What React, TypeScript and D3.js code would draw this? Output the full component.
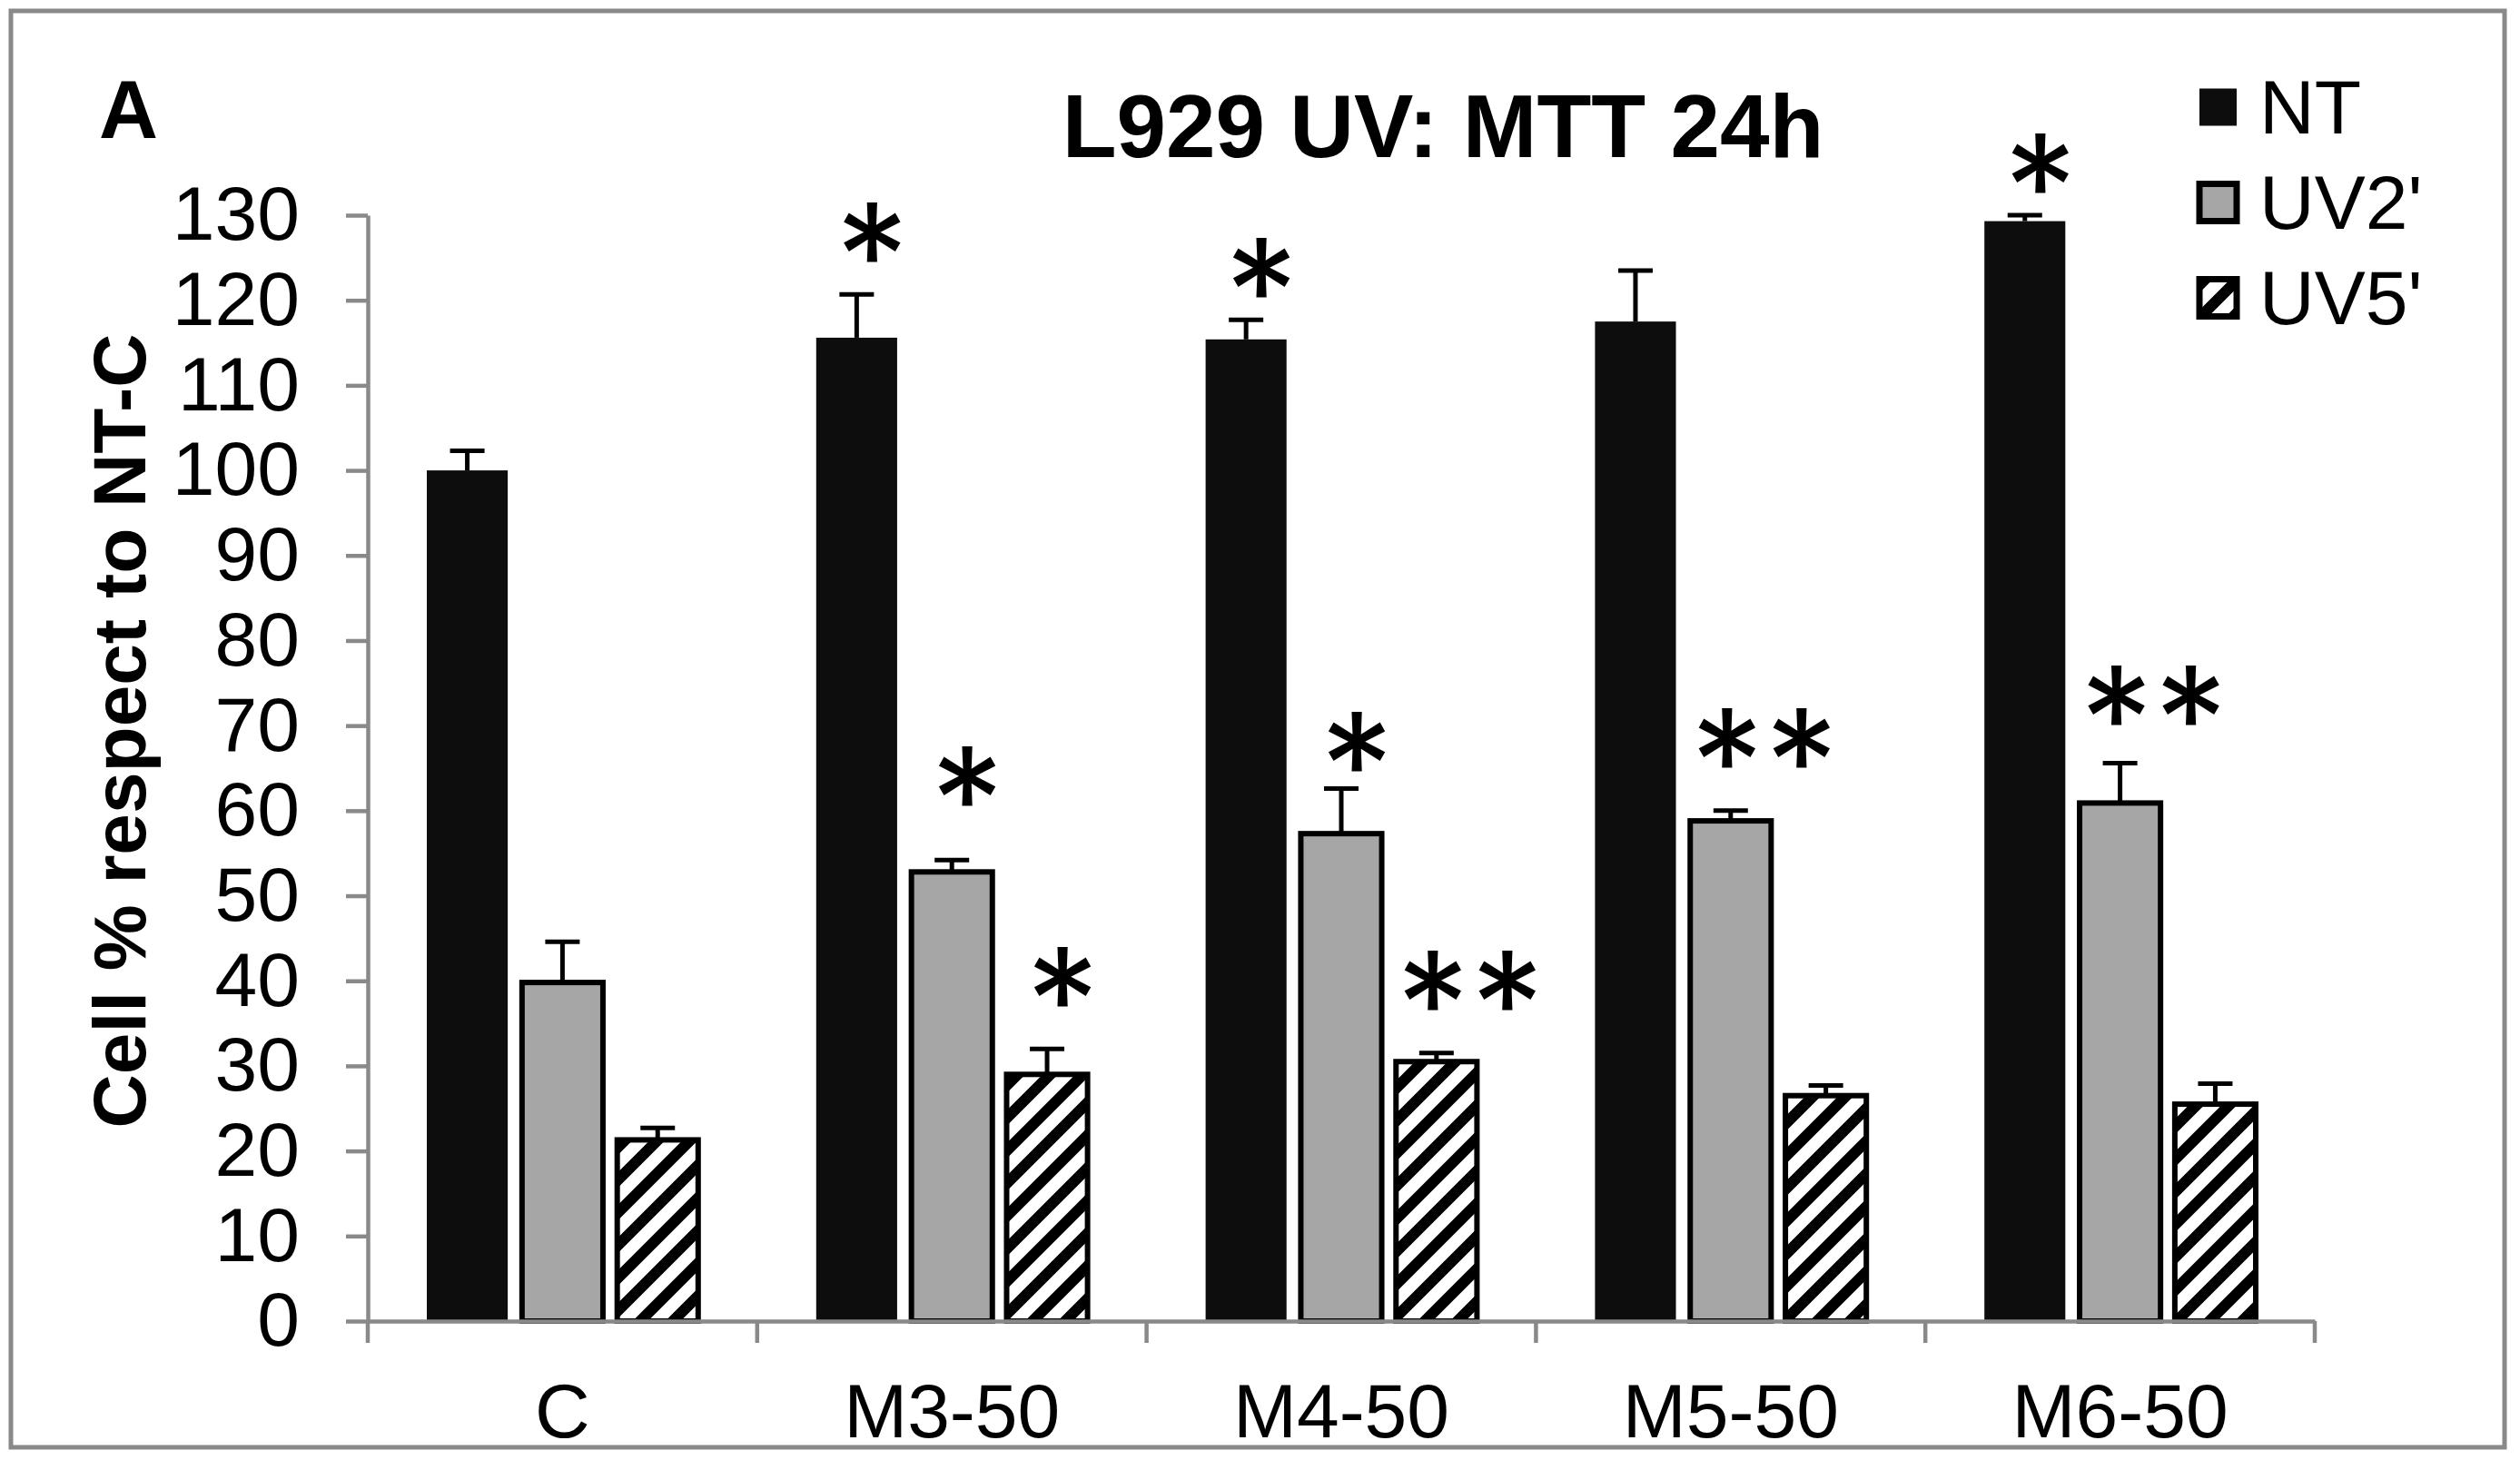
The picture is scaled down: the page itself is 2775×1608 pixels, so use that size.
import React, { useEffect, useRef } from 'react';
import * as d3 from 'd3';

// categories on the x axis and the three treatment series
const categories = ['C', 'M3-50', 'M4-50', 'M5-50', 'M6-50'];
const seriesNames = ['NT', "UV2'", "UV5'"];

// bar heights (cell % respect to NT-C)
const ntValues = [100.0, 115.6, 115.4, 117.5, 129.3];
const uv2Values = [39.8, 52.8, 57.3, 58.8, 60.9];
const uv5Values = [21.3, 29.0, 30.5, 26.5, 25.5];

// upper error bar lengths
const ntErrors = [2.3, 5.1, 2.3, 6.0, 0.7];
const uv2Errors = [4.8, 1.4, 5.3, 1.2, 4.7];
const uv5Errors = [1.4, 3.0, 1.0, 1.2, 2.4];

const yTicks = [0, 10, 20, 30, 40, 50, 60, 70, 80, 90, 100, 110, 120, 130];

// significance marks: which bar, the text and the level (in y units) of its centre
const starCategories = ['M3-50', 'M3-50', 'M3-50', 'M4-50', 'M4-50', 'M4-50', 'M5-50', 'M6-50', 'M6-50'];
const starSeries = ['NT', "UV2'", "UV5'", 'NT', "UV2'", "UV5'", "UV2'", 'NT', "UV2'"];
const starTexts = ['*', '*', '*', '*', '*', '**', '**', '*', '**'];
const starLevels = [127.5, 63.6, 40.0, 123.3, 67.6, 39.5, 68.0, 135.6, 73.1];

const W = 2775;
const H = 1608;
const FONT = "'Liberation Sans', Arial, Helvetica, sans-serif";
const STAR_FONT = "Inter, 'Liberation Sans', sans-serif";
const AXIS_GRAY = '#898989';

const App: React.FC = () => {
    const ref = useRef<SVGSVGElement>(null);

    useEffect(() => {
        const svg = d3.select(ref.current);
        svg.selectAll('*').remove();

        const seriesValues = [ntValues, uv2Values, uv5Values];
        const seriesErrors = [ntErrors, uv2Errors, uv5Errors];
        const fills = ['#0d0d0d', '#a6a6a6', 'url(#hatch)'];
        const strokes = ['none', '#000', '#000'];

        const rows = categories.flatMap((c, i) =>
            seriesNames.map((s, j) => ({
                category: c,
                series: s,
                si: j,
                value: seriesValues[j][i],
                err: seriesErrors[j][i],
            }))
        );

        const x0 = d3.scaleBand().domain(categories).range([405, 2549]).padding(0);
        const x1 = d3.scaleBand().domain(seriesNames).range([0, x0.bandwidth()]).paddingInner(0.15).paddingOuter(0.62);
        const y = d3.scaleLinear().domain([0, 130]).range([1455, 237]);

        // diagonal hatch for UV5'
        const defs = svg.append('defs');
        const pat = defs.append('pattern')
            .attr('id', 'hatch')
            .attr('patternUnits', 'userSpaceOnUse')
            .attr('width', 36)
            .attr('height', 36);
        pat.append('rect').attr('width', 36).attr('height', 36).attr('fill', '#fff');
        pat.append('path')
            .attr('d', 'M-9,9 L9,-9 M0,36 L36,0 M27,45 L45,27')
            .attr('stroke', '#000')
            .attr('stroke-width', 12);

        svg.append('rect').attr('width', W).attr('height', H).attr('fill', '#fff');

        // outer frame
        svg.append('rect')
            .attr('x', 12).attr('y', 12)
            .attr('width', 2746).attr('height', 1582)
            .attr('fill', 'none')
            .attr('stroke', AXIS_GRAY)
            .attr('stroke-width', 5);

        // bars
        svg.append('g').selectAll('rect')
            .data(rows)
            .enter().append('rect')
            .attr('x', d => (x0(d.category) as number) + (x1(d.series) as number))
            .attr('y', d => y(d.value))
            .attr('width', x1.bandwidth())
            .attr('height', d => y(0) - y(d.value))
            .attr('fill', d => fills[d.si])
            .attr('stroke', d => strokes[d.si])
            .attr('stroke-width', 6);

        // error bars (upper only)
        const eg = svg.append('g').attr('stroke', '#000').attr('stroke-width', 5);
        rows.forEach(d => {
            const cx = (x0(d.category) as number) + (x1(d.series) as number) + x1.bandwidth() / 2;
            const top = y(d.value + d.err);
            eg.append('line').attr('x1', cx).attr('x2', cx).attr('y1', y(d.value)).attr('y2', top);
            eg.append('line').attr('x1', cx - 19).attr('x2', cx + 19).attr('y1', top).attr('y2', top);
        });

        // y axis
        const yAxis = svg.append('g')
            .attr('transform', 'translate(405,0)')
            .call(d3.axisLeft(y).tickValues(yTicks).tickSize(24).tickSizeOuter(0).tickPadding(51));
        yAxis.selectAll('path, line').attr('stroke', AXIS_GRAY).attr('stroke-width', 4.5);
        yAxis.selectAll('text')
            .attr('font-family', FONT)
            .attr('font-size', 84)
            .attr('fill', '#000');

        // x axis
        const xAxis = svg.append('g')
            .attr('transform', `translate(0,${y(0)})`)
            .call(d3.axisBottom(x0).tickSize(0).tickSizeOuter(0).tickPadding(68));
        xAxis.selectAll('path').attr('stroke', AXIS_GRAY).attr('stroke-width', 4.5);
        xAxis.selectAll('text')
            .attr('font-family', FONT)
            .attr('font-size', 84)
            .attr('fill', '#000');
        const bounds = [...categories.map(c => x0(c) as number), x0.range()[1]];
        xAxis.selectAll('line.sep')
            .data(bounds)
            .enter().append('line')
            .attr('class', 'sep')
            .attr('x1', d => d).attr('x2', d => d)
            .attr('y1', 0).attr('y2', 24)
            .attr('stroke', AXIS_GRAY)
            .attr('stroke-width', 4.5);

        // significance stars
        const starSize = 160;
        const starGap = 2;
        svg.append('g').selectAll('text')
            .data(starTexts)
            .enter().append('text')
            .attr('x', (t, i) => (x0(starCategories[i]) as number) + (x1(starSeries[i]) as number) + x1.bandwidth() / 2
                + (t.length > 1 ? 37 + starGap / 2 : 17))
            .attr('y', (t, i) => y(starLevels[i]) + starSize * 0.49)
            .attr('text-anchor', 'middle')
            .attr('letter-spacing', t => (t.length > 1 ? starGap : 0))
            .attr('font-family', STAR_FONT)
            .attr('font-size', starSize)
            .text(t => t);

        // title, panel letter, y label
        svg.append('text')
            .attr('x', 1589).attr('y', 173)
            .attr('text-anchor', 'middle')
            .attr('font-family', FONT)
            .attr('font-weight', 'bold')
            .attr('font-size', 98)
            .text('L929 UV: MTT 24h');

        svg.append('text')
            .attr('x', 109).attr('y', 152)
            .attr('font-family', FONT)
            .attr('font-weight', 'bold')
            .attr('font-size', 90)
            .text('A');

        svg.append('text')
            .attr('transform', 'translate(160,805) rotate(-90)')
            .attr('text-anchor', 'middle')
            .attr('font-family', FONT)
            .attr('font-weight', 'bold')
            .attr('font-size', 82)
            .text('Cell % respect to NT-C');

        // legend
        const legend = svg.append('g');
        seriesNames.forEach((s, i) => {
            const cy = 118 + i * 105;
            legend.append('rect')
                .attr('x', 2422).attr('y', cy - 20.5)
                .attr('width', 41).attr('height', 41)
                .attr('fill', fills[i])
                .attr('stroke', strokes[i])
                .attr('stroke-width', 7);
            legend.append('text')
                .attr('x', 2488).attr('y', cy)
                .attr('dy', '0.35em')
                .attr('font-family', FONT)
                .attr('font-size', 84)
                .text(s);
        });
    }, []);

    return <svg ref={ref} width={W} height={H} style={{ position: 'absolute', left: 0, top: 0 }} />;
};

export default App;
